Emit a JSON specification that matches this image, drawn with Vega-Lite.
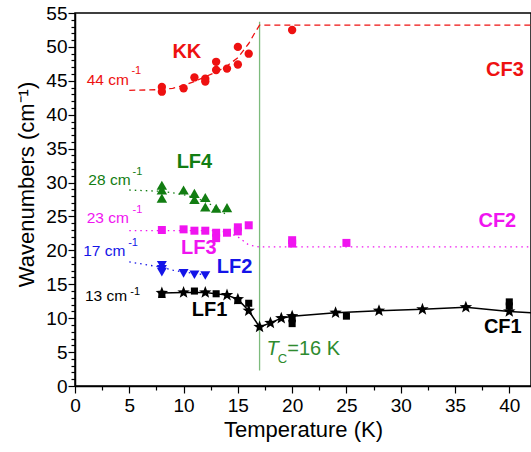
{
  "$schema": "https://vega.github.io/schema/vega-lite/v6.json",
  "width": 456,
  "height": 373,
  "autosize": {"type": "none"},
  "padding": {"left": 75, "top": 13, "right": 0, "bottom": 66},
  "background": "white",
  "config": {
    "font": "Liberation Sans",
    "view": {"stroke": "black", "strokeWidth": 1.5},
    "axis": {
      "domainColor": "black", "domainWidth": 1.5, "tickColor": "black", "tickWidth": 1.2,
      "labelColor": "black", "titleColor": "black", "labelFont": "Liberation Sans", "titleFont": "Liberation Sans",
      "labelFontSize": 19, "titleFontSize": 22, "titleFontWeight": "normal", "grid": false,
      "labelOverlap": false, "labelFlush": false
    }
  },
  "datasets": {
    "pts": [
      {"s": "KK", "T": 8, "W": 44.1}, {"s": "KK", "T": 8, "W": 43.4}, {"s": "KK", "T": 10, "W": 43.9},
      {"s": "KK", "T": 11, "W": 45.5}, {"s": "KK", "T": 12, "W": 45.3}, {"s": "KK", "T": 12, "W": 44.9},
      {"s": "KK", "T": 13, "W": 47.8}, {"s": "KK", "T": 13, "W": 46.6}, {"s": "KK", "T": 14, "W": 46.8},
      {"s": "KK", "T": 15, "W": 50.0}, {"s": "KK", "T": 15, "W": 47.4}, {"s": "KK", "T": 16, "W": 49.0},
      {"s": "KK", "T": 20, "W": 52.5},
      {"s": "LF4", "T": 8, "W": 29.6}, {"s": "LF4", "T": 8, "W": 28.9}, {"s": "LF4", "T": 8, "W": 27.7},
      {"s": "LF4", "T": 10, "W": 28.9}, {"s": "LF4", "T": 11, "W": 28.4}, {"s": "LF4", "T": 11, "W": 27.5},
      {"s": "LF4", "T": 12, "W": 27.8}, {"s": "LF4", "T": 12, "W": 26.4}, {"s": "LF4", "T": 13, "W": 26.2},
      {"s": "LF4", "T": 14, "W": 26.3},
      {"s": "LF3", "T": 8, "W": 23.0}, {"s": "LF3", "T": 10, "W": 23.1}, {"s": "LF3", "T": 11, "W": 22.9},
      {"s": "LF3", "T": 12, "W": 22.9}, {"s": "LF3", "T": 13, "W": 22.6}, {"s": "LF3", "T": 13, "W": 21.8},
      {"s": "LF3", "T": 14, "W": 22.6}, {"s": "LF3", "T": 15, "W": 23.4}, {"s": "LF3", "T": 15, "W": 22.8},
      {"s": "LF3", "T": 16, "W": 23.7}, {"s": "LF3", "T": 20, "W": 21.5}, {"s": "LF3", "T": 20, "W": 21.0},
      {"s": "LF3", "T": 25, "W": 21.1},
      {"s": "LF2", "T": 8, "W": 17.8}, {"s": "LF2", "T": 8, "W": 17.2}, {"s": "LF2", "T": 8, "W": 16.8},
      {"s": "LF2", "T": 10, "W": 16.6}, {"s": "LF2", "T": 11, "W": 16.4}, {"s": "LF2", "T": 12, "W": 16.3},
      {"s": "LF1sq", "T": 8, "W": 13.5}, {"s": "LF1sq", "T": 11, "W": 14.0}, {"s": "LF1sq", "T": 13, "W": 13.6},
      {"s": "LF1sq", "T": 15, "W": 12.6}, {"s": "LF1sq", "T": 16, "W": 12.2}, {"s": "LF1sq", "T": 20, "W": 9.9},
      {"s": "LF1sq", "T": 20, "W": 9.2}, {"s": "LF1sq", "T": 25, "W": 10.3}, {"s": "LF1sq", "T": 40, "W": 12.4},
      {"s": "LF1sq", "T": 40, "W": 11.8},
      {"s": "LF1", "T": 8, "W": 13.7}, {"s": "LF1", "T": 10, "W": 13.8}, {"s": "LF1", "T": 12, "W": 13.8},
      {"s": "LF1", "T": 14, "W": 13.4}, {"s": "LF1", "T": 15, "W": 12.8}, {"s": "LF1", "T": 16, "W": 11.1},
      {"s": "LF1", "T": 17, "W": 8.7}, {"s": "LF1", "T": 18, "W": 9.3}, {"s": "LF1", "T": 19, "W": 10.0},
      {"s": "LF1", "T": 20, "W": 10.3}, {"s": "LF1", "T": 24, "W": 10.8}, {"s": "LF1", "T": 28, "W": 11.1},
      {"s": "LF1", "T": 32, "W": 11.3}, {"s": "LF1", "T": 36, "W": 11.6}, {"s": "LF1", "T": 40, "W": 11.0}
    ],
    "lf1line": [
      {"T": 8, "W": 13.7}, {"T": 10, "W": 13.8}, {"T": 12, "W": 13.8}, {"T": 14, "W": 13.4}, {"T": 15, "W": 12.8},
      {"T": 16, "W": 11.1}, {"T": 17, "W": 8.7}, {"T": 18, "W": 9.3}, {"T": 19, "W": 10.0}, {"T": 20, "W": 10.3},
      {"T": 24, "W": 10.8}, {"T": 28, "W": 11.1}, {"T": 32, "W": 11.3}, {"T": 36, "W": 11.6}, {"T": 40, "W": 11.0},
      {"T": 44, "W": 10.6}
    ],
    "fits": [
      {"s": "KK", "T": 5, "W": 43.6}, {"s": "KK", "T": 8, "W": 43.7}, {"s": "KK", "T": 9, "W": 43.9},
      {"s": "KK", "T": 10, "W": 44.3}, {"s": "KK", "T": 11, "W": 44.9}, {"s": "KK", "T": 12, "W": 45.6},
      {"s": "KK", "T": 13, "W": 46.3}, {"s": "KK", "T": 14, "W": 47.2}, {"s": "KK", "T": 15, "W": 48.4},
      {"s": "KK", "T": 16, "W": 50.5}, {"s": "KK", "T": 16.5, "W": 51.9}, {"s": "KK", "T": 17, "W": 53.2},
      {"s": "KK", "T": 42, "W": 53.2},
      {"s": "LF4", "T": 5, "W": 28.9}, {"s": "LF4", "T": 8, "W": 28.7}, {"s": "LF4", "T": 9, "W": 28.5},
      {"s": "LF4", "T": 10, "W": 28.2}, {"s": "LF4", "T": 11, "W": 27.8}, {"s": "LF4", "T": 12, "W": 27.2},
      {"s": "LF4", "T": 13, "W": 26.3}, {"s": "LF4", "T": 14, "W": 25.2},
      {"s": "LF3", "T": 5, "W": 22.9}, {"s": "LF3", "T": 13, "W": 22.9}, {"s": "LF3", "T": 14, "W": 22.7},
      {"s": "LF3", "T": 15, "W": 22.0}, {"s": "LF3", "T": 16, "W": 20.8}, {"s": "LF3", "T": 17, "W": 20.5},
      {"s": "LF3", "T": 42, "W": 20.5},
      {"s": "LF2", "T": 5, "W": 18.3}, {"s": "LF2", "T": 8, "W": 17.5}, {"s": "LF2", "T": 9, "W": 17.1},
      {"s": "LF2", "T": 10, "W": 16.8}, {"s": "LF2", "T": 12, "W": 16.4}
    ],
    "tc": [{"T": 17, "W": 2.3, "W2": 53.7}],
    "labels": [
      {"k": "big", "s": "KK", "T": 10.3, "W": 49.3, "text": "KK"},
      {"k": "big", "s": "KK", "T": 39.6, "W": 46.6, "text": "CF3"},
      {"k": "big", "s": "LF4", "T": 11.0, "W": 33.1, "text": "LF4"},
      {"k": "big", "s": "LF3", "T": 11.4, "W": 20.4, "text": "LF3"},
      {"k": "big", "s": "LF2", "T": 14.7, "W": 17.5, "text": "LF2"},
      {"k": "big", "s": "LF1", "T": 12.4, "W": 11.2, "text": "LF1"},
      {"k": "big", "s": "LF3", "T": 38.9, "W": 24.3, "text": "CF2"},
      {"k": "big", "s": "LF1", "T": 39.4, "W": 8.7, "text": "CF1"},
      {"k": "cm", "s": "KK", "T": 1.08, "W": 45.1, "text": "44 cm"},
      {"k": "cm", "s": "LF4", "T": 1.23, "W": 30.4, "text": "28 cm"},
      {"k": "cm", "s": "LF3", "T": 1.08, "W": 24.7, "text": "23 cm"},
      {"k": "cm", "s": "LF2", "T": 0.76, "W": 19.9, "text": "17 cm"},
      {"k": "cm", "s": "LF1", "T": 0.92, "W": 13.2, "text": "13 cm"},
      {"k": "sup", "s": "KK", "T": 5.2, "W": 46.4, "text": "-1"},
      {"k": "sup", "s": "LF4", "T": 5.3, "W": 31.5, "text": "-1"},
      {"k": "sup", "s": "LF3", "T": 5.3, "W": 26.0, "text": "-1"},
      {"k": "sup", "s": "LF2", "T": 4.9, "W": 21.1, "text": "-1"},
      {"k": "sup", "s": "LF1", "T": 5.1, "W": 13.9, "text": "-1"},
      {"k": "tcT", "s": "Tc", "T": 18.2, "W": 5.5, "text": "T"},
      {"k": "tcC", "s": "Tc", "T": 19.1, "W": 4.0, "text": "C"},
      {"k": "tcR", "s": "Tc", "T": 19.55, "W": 5.5, "text": "=16 K"}
    ]
  },
  "encoding": {
    "x": {
      "field": "T", "type": "quantitative",
      "scale": {"domain": [0, 42], "nice": false, "zero": false},
      "axis": {
        "title": "Temperature (K)",
        "values": [0, 2.5, 5, 7.5, 10, 12.5, 15, 17.5, 20, 22.5, 25, 27.5, 30, 32.5, 35, 37.5, 40],
        "labelExpr": "datum.value % 5 === 0 ? datum.label : ''",
        "tickSize": {"condition": {"test": "datum.value % 5 === 0", "value": 7}, "value": 4},
        "labelPadding": 3, "titlePadding": 4
      }
    },
    "y": {
      "field": "W", "type": "quantitative",
      "scale": {"domain": [0, 55], "nice": false, "zero": false},
      "axis": {
        "title": "Wavenumbers (cm⁻¹)",
        "values": [0,1,2,3,4,5,6,7,8,9,10,11,12,13,14,15,16,17,18,19,20,21,22,23,24,25,26,27,28,29,30,31,32,33,34,35,36,37,38,39,40,41,42,43,44,45,46,47,48,49,50,51,52,53,54,55],
        "labelExpr": "datum.value % 5 === 0 ? datum.label : ''",
        "tickSize": {"condition": {"test": "datum.value % 5 === 0", "value": 7}, "value": 4},
        "labelPadding": 1,
        "titleX": -42, "titleY": 171, "titleBaseline": "alphabetic", "titleAngle": -90, "titleAlign": "center"
      }
    },
    "color": {
      "field": "s", "type": "nominal", "legend": null,
      "scale": {
        "domain": ["KK", "LF4", "LF3", "LF2", "LF1", "LF1sq", "Tc"],
        "range": ["#ee1111", "#127d12", "#f014f0", "#1414e8", "#000000", "#000000", "#2e8b2e"]
      }
    }
  },
  "layer": [
    {
      "data": {"name": "tc"},
      "mark": {"type": "rule", "color": "#7dbb7d", "strokeWidth": 1.3},
      "encoding": {"y2": {"field": "W2"}, "color": {"value": "#7dbb7d"}}
    },
    {
      "data": {"name": "fits"},
      "mark": {"type": "line", "strokeWidth": 1.3, "clip": true},
      "encoding": {
        "detail": {"field": "s"},
        "strokeDash": {
          "field": "s", "type": "nominal", "legend": null,
          "scale": {"domain": ["KK", "LF4", "LF3", "LF2"], "range": [[6, 4], [1.5, 4], [1.5, 4], [1.5, 4]]}
        }
      }
    },
    {
      "data": {"name": "lf1line"},
      "mark": {"type": "line", "color": "black", "strokeWidth": 1.5, "clip": true},
      "encoding": {"color": {"value": "black"}}
    },
    {
      "data": {"name": "pts"},
      "transform": [{"filter": "datum.s === 'KK'"}],
      "mark": {"type": "point", "filled": true, "opacity": 1, "shape": "circle", "size": 70}
    },
    {
      "data": {"name": "pts"},
      "transform": [{"filter": "datum.s === 'LF4'"}],
      "mark": {"type": "point", "filled": true, "opacity": 1, "shape": "triangle-up", "size": 110}
    },
    {
      "data": {"name": "pts"},
      "transform": [{"filter": "datum.s === 'LF3'"}],
      "mark": {"type": "point", "filled": true, "opacity": 1, "shape": "square", "size": 64}
    },
    {
      "data": {"name": "pts"},
      "transform": [{"filter": "datum.s === 'LF2'"}],
      "mark": {"type": "point", "filled": true, "opacity": 1, "shape": "triangle-down", "size": 100}
    },
    {
      "data": {"name": "pts"},
      "transform": [{"filter": "datum.s === 'LF1sq'"}],
      "mark": {"type": "point", "filled": true, "opacity": 1, "shape": "square", "size": 50}
    },
    {
      "data": {"name": "pts"},
      "transform": [{"filter": "datum.s === 'LF1'"}],
      "mark": {"type": "point", "filled": true, "opacity": 1, "size": 170,
        "shape": "M0,-1L0.247,-0.34L0.951,-0.309L0.399,0.13L0.588,0.809L0,0.42L-0.588,0.809L-0.399,0.13L-0.951,-0.309L-0.247,-0.34Z"}
    },
    {
      "data": {"name": "labels"},
      "transform": [{"filter": "datum.k === 'big'"}],
      "mark": {"type": "text", "fontSize": 20, "fontWeight": "bold", "align": "center", "baseline": "middle"},
      "encoding": {"text": {"field": "text"}}
    },
    {
      "data": {"name": "labels"},
      "transform": [{"filter": "datum.k === 'cm'"}],
      "mark": {"type": "text", "fontSize": 15.5, "align": "left", "baseline": "middle"},
      "encoding": {"text": {"field": "text"}}
    },
    {
      "data": {"name": "labels"},
      "transform": [{"filter": "datum.k === 'sup'"}],
      "mark": {"type": "text", "fontSize": 11, "align": "left", "baseline": "middle"},
      "encoding": {"text": {"field": "text"}}
    },
    {
      "data": {"name": "labels"},
      "transform": [{"filter": "datum.k === 'tcT'"}],
      "mark": {"type": "text", "fontSize": 20, "fontStyle": "italic", "align": "center", "baseline": "middle"},
      "encoding": {"text": {"field": "text"}}
    },
    {
      "data": {"name": "labels"},
      "transform": [{"filter": "datum.k === 'tcC'"}],
      "mark": {"type": "text", "fontSize": 13, "align": "center", "baseline": "middle"},
      "encoding": {"text": {"field": "text"}}
    },
    {
      "data": {"name": "labels"},
      "transform": [{"filter": "datum.k === 'tcR'"}],
      "mark": {"type": "text", "fontSize": 20, "align": "left", "baseline": "middle"},
      "encoding": {"text": {"field": "text"}}
    }
  ]
}
